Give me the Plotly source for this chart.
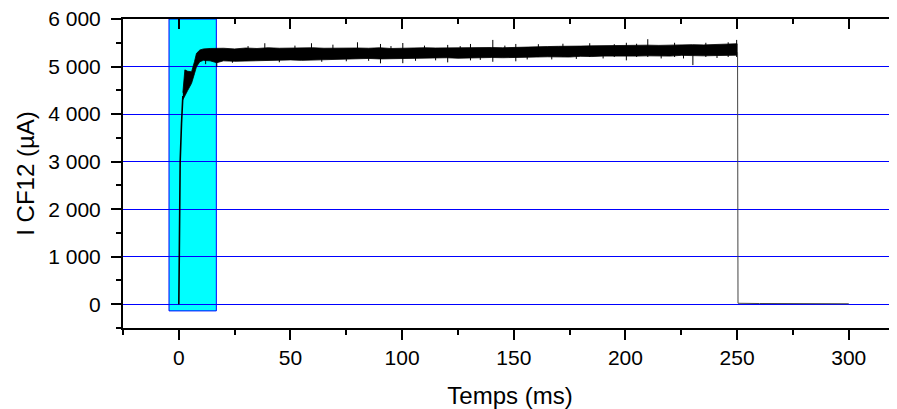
import plotly.graph_objects as go

# ---------------- data ----------------
# steep initial rise (ms, µA)
rise_t = [0.0, 0.15, 0.35, 0.6, 1.2, 1.8]
rise_y = [0, 1000, 2000, 3000, 3800, 4380]

# noisy plateau: upper / lower envelope of the signal (ms, µA)
env_t = [1.8, 2.7, 4, 5.7, 7, 7.9, 9.4, 11, 14, 17,
         20, 25, 30, 35, 40, 45, 50, 55, 60, 65, 70, 75, 80, 85, 90, 95,
         100, 105, 110, 115, 120, 125, 130, 135, 140, 145, 150, 155, 160,
         165, 170, 175, 180, 185, 190, 195, 200, 205, 210, 215, 220, 225,
         230, 235, 240, 245, 250]
env_hi = [4450, 4930, 4900, 4890, 5100, 5277, 5347, 5370, 5380, 5390,
          5385, 5370, 5390, 5380, 5395, 5385, 5390, 5380, 5395, 5385, 5390, 5385, 5390, 5385, 5395, 5380,
          5390, 5385, 5395, 5390, 5395, 5390, 5400, 5395, 5400, 5395, 5405, 5400, 5410,
          5420, 5425, 5420, 5430, 5435, 5440, 5435, 5445, 5440, 5450, 5445, 5455, 5450,
          5460, 5455, 5465, 5460, 5480]
env_lo = [4300, 4365, 4500, 4646, 4850, 4996, 5101, 5130, 5120, 5080,
          5120, 5110, 5125, 5130, 5120, 5135, 5140, 5130, 5145, 5150, 5140, 5160, 5165, 5170, 5160, 5175,
          5170, 5180, 5175, 5180, 5185, 5175, 5185, 5180, 5190, 5185, 5195, 5190, 5200,
          5205, 5210, 5200, 5215, 5210, 5220, 5215, 5225, 5220, 5225, 5230, 5220, 5235,
          5230, 5225, 5235, 5230, 5240]

# isolated noise spikes (ms, low µA, high µA)
spike_t = [12, 17, 24, 31, 38.5, 45, 52, 59.4, 64, 69, 75, 80, 85, 90.3, 95,
           100.3, 106, 110, 115, 120.4, 126, 130.6, 135, 140.6, 146, 150.9,
           156, 161, 167, 172, 178, 184, 190, 195, 200.4, 205, 210, 216, 222,
           226, 230.2, 236, 241, 246, 249.8]
spike_lo = [5050, 4990, 5080, 5200, 5200, 5090, 5200, 5200, 5100, 5200, 5110, 5200, 5120, 5067, 5200,
            5070, 5120, 5200, 5130, 5088, 5200, 5130, 5140, 5100, 5200, 5110,
            5150, 5200, 5150, 5200, 5160, 5200, 5170, 5200, 5130, 5200, 5200, 5170, 5200,
            5170, 5030, 5200, 5180, 5200, 5200]
spike_hi = [5300, 5300, 5300, 5430, 5490, 5300, 5440, 5490, 5300, 5460, 5300, 5510, 5300, 5475, 5430,
            5495, 5300, 5440, 5300, 5455, 5430, 5475, 5300, 5560, 5440, 5475,
            5300, 5470, 5300, 5480, 5300, 5490, 5300, 5470, 5500, 5480, 5575, 5300, 5500,
            5300, 5300, 5500, 5300, 5510, 5560]

# switch-off and tail (ms, µA)
tail_t = [250.2, 250.4, 260, 270, 280, 290, 300]
tail_y = [5300, 20, 15, 12, 12, 10, 10]

# highlighted window (ms, µA)
win_t = [-4.4, 16.8]
win_y = [-140, 6000]

x_ticks = [0, 50, 100, 150, 200, 250, 300]
y_ticks = [0, 1000, 2000, 3000, 4000, 5000, 6000]
y_tick_labels = ["0", "1 000", "2 000", "3 000", "4 000", "5 000", "6 000"]

# ---------------- figure ----------------
FONT = "Liberation Sans, Arial, sans-serif"
fig = go.Figure()

poly_x = env_t + env_t[::-1]
poly_y = env_hi + env_lo[::-1]
fig.add_trace(go.Scatter(x=poly_x, y=poly_y, mode="lines", fill="toself",
                         fillcolor="black", line=dict(color="black", width=0.8),
                         hoverinfo="skip", showlegend=False))
fig.add_trace(go.Scatter(x=rise_t, y=rise_y, mode="lines",
                         line=dict(color="black", width=1.6), showlegend=False))
sx, sy = [], []
for t, lo, hi in zip(spike_t, spike_lo, spike_hi):
    sx += [t, t, None]
    sy += [lo, hi, None]
fig.add_trace(go.Scatter(x=sx, y=sy, mode="lines",
                         line=dict(color="black", width=1), showlegend=False))
fig.add_trace(go.Scatter(x=tail_t, y=tail_y, mode="lines",
                         line=dict(color="#444444", width=1), showlegend=False))
fig.add_trace(go.Scatter(x=[x_ticks[0]], y=[y_ticks[0]], xaxis="x2", mode="markers",
                         marker=dict(opacity=0), hoverinfo="skip", showlegend=False))

fig.add_shape(type="rect", xref="x", yref="y", x0=win_t[0], x1=win_t[1],
              y0=win_y[0], y1=win_y[1], fillcolor="#00ffff",
              line=dict(color="#0000ff", width=1), layer="below")

xr = [-25, 321.6]
fig.update_layout(
    width=889, height=401,
    margin=dict(l=115, r=0, t=11, b=81),
    paper_bgcolor="white", plot_bgcolor="white",
    font=dict(family=FONT, color="black", size=21),
    xaxis=dict(range=xr, tickvals=x_ticks, ticks="outside", ticklen=10, tickwidth=2,
               tickcolor="black", showline=True, linecolor="black", linewidth=2,
               showgrid=False, zeroline=False, automargin=False,
               minor=dict(dtick=25, tick0=0, ticks="outside", ticklen=5, tickwidth=2,
                          tickcolor="black", showgrid=False),
               tickfont=dict(size=21),
               title=dict(text="Temps (ms)", font=dict(size=24), standoff=21)),
    xaxis2=dict(range=xr, overlaying="x", side="top", anchor="y", tickvals=x_ticks,
                ticks="inside", ticklen=10, tickwidth=2, tickcolor="black",
                showline=True, linecolor="black", linewidth=2, showticklabels=False,
                showgrid=False, zeroline=False, automargin=False,
                minor=dict(dtick=25, tick0=0, ticks="inside", ticklen=5, tickwidth=2,
                           tickcolor="black", showgrid=False)),
    yaxis=dict(range=[-500, 6000], tickvals=y_ticks, ticktext=y_tick_labels,
               ticks="outside", ticklen=10, tickwidth=2, tickcolor="black",
               showline=True, linecolor="black", linewidth=2, automargin=False,
               showgrid=True, gridcolor="#0000ff", gridwidth=1, zeroline=False,
               minor=dict(dtick=500, tick0=0, ticks="outside", ticklen=5, tickwidth=2,
                          tickcolor="black", showgrid=False),
               tickfont=dict(size=21), ticklabelstandoff=6, ticklabeloverflow="allow",
               title=dict(text="I CF12 (µA)", font=dict(size=24), standoff=7)),
)

fig.write_html("out.html")
